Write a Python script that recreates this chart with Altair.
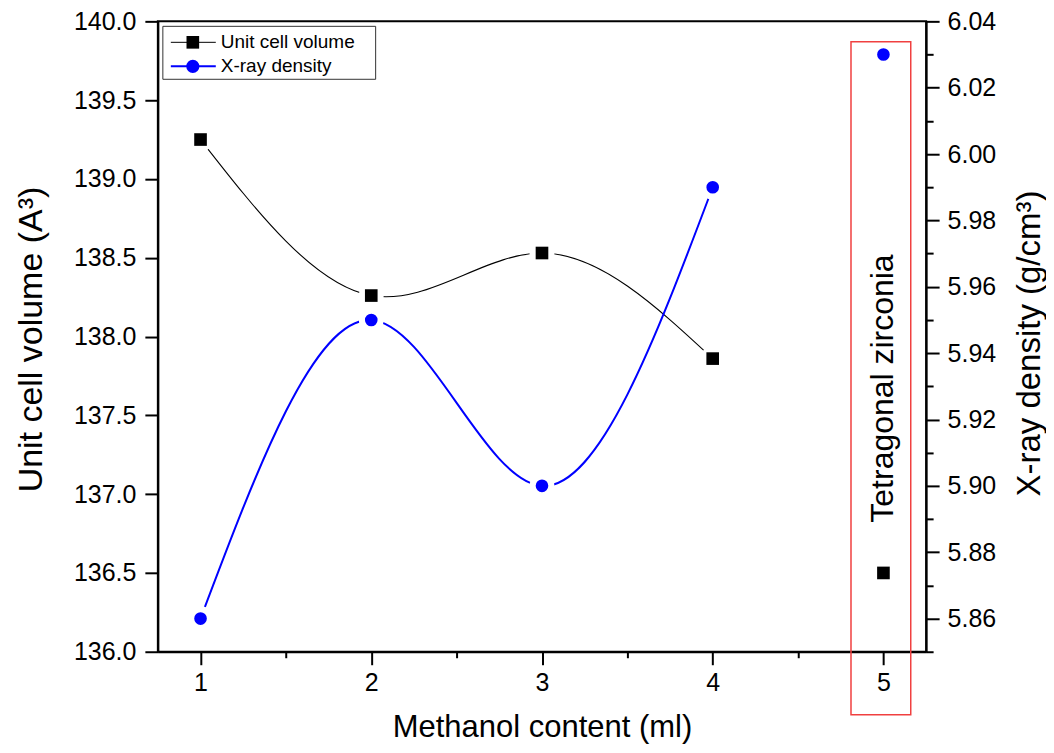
import altair as alt
import pandas as pd

# ---------------- data ----------------
methanol = [1, 2, 3, 4, 5]
unit_cell_volume = [139.25, 138.26, 138.53, 137.86, 136.50]
xray_density = [5.86, 5.95, 5.90, 5.99, 6.03]
connected = [True, True, True, True, False]   # point 5 (tetragonal) is not joined

x_tick_values = [1, 1.5, 2, 2.5, 3, 3.5, 4, 4.5, 5]
left_tick_values = [136.0, 136.25, 136.5, 136.75, 137.0, 137.25, 137.5, 137.75, 138.0,
                    138.25, 138.5, 138.75, 139.0, 139.25, 139.5, 139.75, 140.0]
right_tick_values = [5.85, 5.86, 5.87, 5.88, 5.89, 5.90, 5.91, 5.92, 5.93, 5.94,
                     5.95, 5.96, 5.97, 5.98, 5.99, 6.00, 6.01, 6.02, 6.03, 6.04]

series_names = ["Unit cell volume", "X-ray density"]

# annotation (data coordinates): highlight box around x = 5 and its label
box_x = [4.81, 5.16]
box_y = [139.87, 135.60]
note_text = "Tetragonal zirconia"
note_pos = [5, 137.67]

df = pd.DataFrame({"x": methanol, "vol": unit_cell_volume,
                   "dens": xray_density, "line": connected})
one = pd.DataFrame({"k": [0]})

FONT = "Liberation Sans"


def cond_size(test, major, minor):
    return {"condition": {"test": test, "value": major}, "value": minor}


x_test = "abs(round(datum.value*2)) % 2 == 0"
l_test = "abs(round(datum.value*4)) % 2 == 0"
r_test = "abs(round(datum.value*100)) % 2 == 0"

X = alt.X(
    "x:Q",
    scale=alt.Scale(domain=[0.75, 5.25], nice=False, zero=False),
    axis=alt.Axis(
        values=x_tick_values,
        labelExpr=f"{x_test} ? format(datum.value, 'd') : ''",
        tickSize=cond_size(x_test, 13, 6),
        labelPadding=6,
        title="Methanol content (ml)",
        titleX=384.5, titleY=85, titleAngle=0,
        titleAlign="center", titleBaseline="alphabetic",
        titleFontSize=31,
    ),
)

left_axis = alt.Axis(
    orient="left",
    values=left_tick_values,
    labelExpr=f"{l_test} ? format(datum.value, '.1f') : ''",
    tickSize=cond_size(l_test, 13, 7),
    labelPadding=9,
    title="Unit cell volume (A³)",
    titleX=-116, titleY=318, titleAngle=270,
    titleAlign="center", titleBaseline="alphabetic",
    titleFontSize=34,
)
left_scale = alt.Scale(domain=[136, 140], nice=False, zero=False)

right_axis = alt.Axis(
    orient="right",
    values=right_tick_values,
    labelExpr=f"{r_test} ? format(datum.value, '.2f') : ''",
    tickSize=cond_size(r_test, 13, 7),
    labelPadding=8,
    title="X-ray density (g/cm³)",
    titleX=113, titleY=322, titleAngle=270,
    titleAlign="center", titleBaseline="alphabetic",
    titleFontSize=33,
)
right_scale = alt.Scale(domain=[5.85, 6.04], nice=False, zero=False)

YL = alt.Y("vol:Q", scale=left_scale, axis=left_axis)
YR = alt.Y("dens:Q", scale=right_scale, axis=right_axis)

base = alt.Chart(df)
joined = base.transform_filter("datum.line")

# ---------------- left (unit cell volume) ----------------
box = alt.Chart(one).mark_rect(fill=None, stroke="#f04040", strokeWidth=1.5, clip=False).encode(
    x=alt.datum(box_x[0]), x2=alt.datum(box_x[1]),
    y=alt.datum(box_y[0]), y2=alt.datum(box_y[1]),
)
vol_line = joined.mark_line(interpolate="natural", color="black", strokeWidth=1.1).encode(x=X, y=YL)
vol_halo = joined.mark_point(shape="circle", filled=True, color="white", opacity=1, size=620).encode(x=X, y=YL)
vol_pts = base.mark_point(shape="square", filled=True, color="black", opacity=1, size=160).encode(x=X, y=YL)
note = alt.Chart(one).mark_text(angle=270, font=FONT, fontSize=32, align="center",
                                baseline="middle", color="black").encode(
    x=alt.datum(note_pos[0]), y=alt.datum(note_pos[1]), text=alt.value(note_text))

# legend (drawn inside plot, top-left)
leg_box = alt.Chart(one).mark_rect(fill="white", stroke="#333333", strokeWidth=1).encode(
    x=alt.value(5), x2=alt.value(218), y=alt.value(5), y2=alt.value(58))
leg_line1 = alt.Chart(one).mark_rule(color="black", strokeWidth=1).encode(
    x=alt.value(13), x2=alt.value(58), y=alt.value(21))
leg_pt1 = alt.Chart(one).mark_point(shape="square", filled=True, color="black", opacity=1, size=160).encode(
    x=alt.value(35), y=alt.value(21))
leg_txt1 = alt.Chart(one).mark_text(align="left", baseline="middle", font=FONT, fontSize=19, color="black").encode(
    x=alt.value(63), y=alt.value(21), text=alt.value(series_names[0]))
leg_line2 = alt.Chart(one).mark_rule(color="#0000ff", strokeWidth=2).encode(
    x=alt.value(13), x2=alt.value(58), y=alt.value(45))
leg_pt2 = alt.Chart(one).mark_point(shape="circle", filled=True, color="#0000ff", opacity=1, size=175).encode(
    x=alt.value(35), y=alt.value(45))
leg_txt2 = alt.Chart(one).mark_text(align="left", baseline="middle", font=FONT, fontSize=19, color="black").encode(
    x=alt.value(63), y=alt.value(45), text=alt.value(series_names[1]))

left = alt.layer(vol_line, vol_halo, vol_pts, box, note,
                 leg_box, leg_line1, leg_pt1, leg_txt1, leg_line2, leg_pt2, leg_txt2)

# ---------------- right (X-ray density) ----------------
den_line = joined.mark_line(interpolate="natural", color="#0000ff", strokeWidth=2).encode(x=X, y=YR)
den_halo = joined.mark_point(shape="circle", filled=True, color="white", opacity=1, size=620).encode(x=X, y=YR)
den_pts = base.mark_point(shape="circle", filled=True, color="#0000ff", opacity=1, size=160).encode(x=X, y=YR)
right = alt.layer(den_line, den_halo, den_pts)

chart = (
    alt.layer(left, right)
    .resolve_scale(y="independent")
    .properties(
        width=769, height=631,
        autosize=alt.AutoSizeParams(type="none"),
        padding={"left": 150, "top": 13, "right": 120, "bottom": 93},
        background="white",
    )
    .configure_view(stroke="black", strokeWidth=2)
    .configure_axis(
        grid=False,
        domainColor="black", domainWidth=2,
        tickColor="black", tickWidth=2,
        labelFont=FONT, labelFontSize=25, labelColor="black",
        labelOverlap=False, labelFlush=False,
        titleFont=FONT, titleColor="black", titleFontWeight="normal",
    )
)

chart.save("out.html", embed_options={"renderer": "svg", "actions": False})
